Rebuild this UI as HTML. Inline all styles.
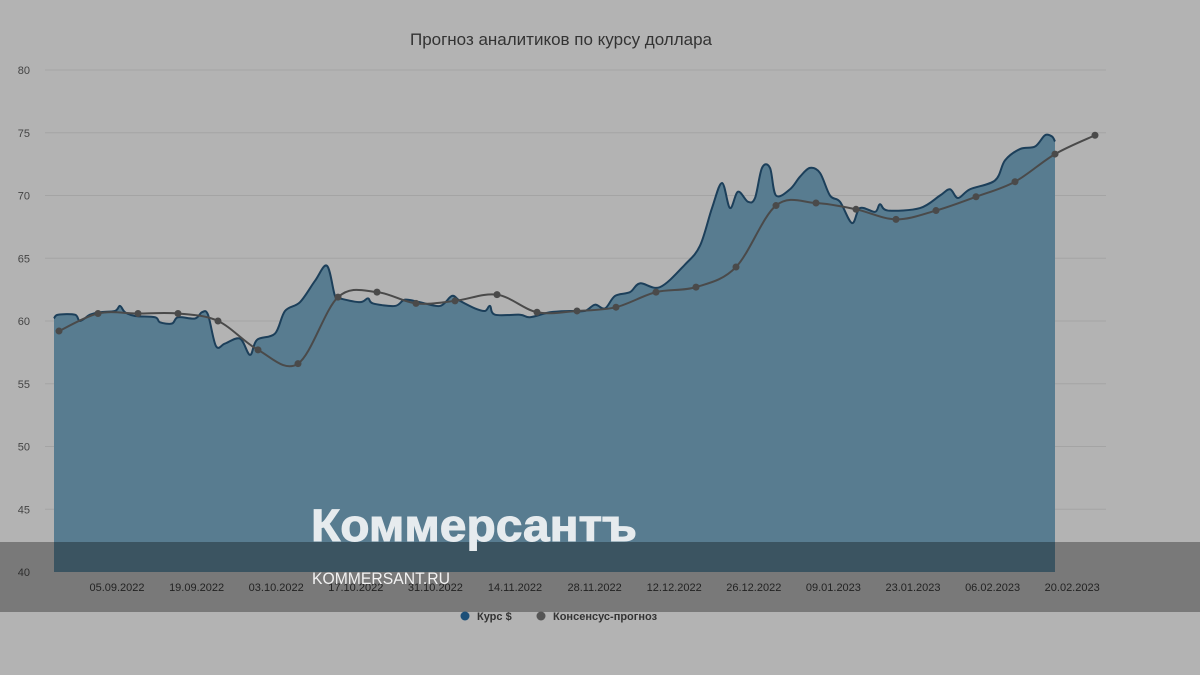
<!DOCTYPE html>
<html><head><meta charset="utf-8"><style>
body{margin:0;background:#b3b3b3;}
svg{display:block;font-family:"Liberation Sans",sans-serif;}
</style></head><body>
<svg id="s" width="1200" height="675" viewBox="0 0 1200 675">
<rect width="1200" height="675" fill="#b3b3b3"/>
<text x="561" y="45" text-anchor="middle" font-size="17" fill="#333">Прогноз аналитиков по курсу доллара</text>
<g id="grid" stroke="#a4a4a4" stroke-width="1"></g>
<g id="yl" font-size="11" fill="#444" text-anchor="end"></g>
<path id="area" fill="#587c90"/>
<path id="line" fill="none" stroke="#1c3f5a" stroke-width="2"/>
<path id="cons" fill="none" stroke="#4a4a4a" stroke-width="2"/>
<g id="dots" fill="#4a4a4a"></g>
<g id="xl" font-size="11" fill="#333" text-anchor="middle"></g>
<rect x="0" y="542" width="1200" height="70" fill="rgba(0,0,0,0.32)"/>
<text x="311" y="541" font-size="45" font-weight="bold" fill="#e6ebee" textLength="326" lengthAdjust="spacingAndGlyphs" stroke="#e6ebee" stroke-width="1">Коммерсантъ</text>
<text x="312" y="584" font-size="17" fill="#f2f2f2" textLength="138" lengthAdjust="spacingAndGlyphs">KOMMERSANT.RU</text>
<circle cx="465" cy="616" r="4.5" fill="#1c4f78"/>
<text x="477" y="620" font-size="11" font-weight="bold" fill="#333">Курс $</text>
<circle cx="541" cy="616" r="4.5" fill="#555"/>
<text x="553" y="620" font-size="11" font-weight="bold" fill="#333">Консенсус-прогноз</text>
</svg>
<script>
const Y=v=>572-(v-40)*12.55;
const ns="http://www.w3.org/2000/svg";
function el(p,t,a,txt){const e=document.createElementNS(ns,t);for(const k in a)e.setAttribute(k,a[k]);if(txt)e.textContent=txt;document.getElementById(p).appendChild(e);}
for(let v=40;v<=80;v+=5){if(v>40)el('grid','line',{x1:45,x2:1106,y1:Y(v),y2:Y(v)});el('yl','text',{x:30,y:Y(v)+4},String(v));}
const dates=["05.09.2022","19.09.2022","03.10.2022","17.10.2022","31.10.2022","14.11.2022","28.11.2022","12.12.2022","26.12.2022","09.01.2023","23.01.2023","06.02.2023","20.02.2023"];
dates.forEach((d,i)=>el('xl','text',{x:117+i*79.6,y:591},d));
function smooth(pts){let d="M"+pts[0][0]+","+pts[0][1];for(let i=0;i<pts.length-1;i++){const p0=pts[i-1]||pts[i],p1=pts[i],p2=pts[i+1],p3=pts[i+2]||p2;const t=6;d+=" C"+(p1[0]+(p2[0]-p0[0])/t)+","+(p1[1]+(p2[1]-p0[1])/t)+" "+(p2[0]-(p3[0]-p1[0])/t)+","+(p2[1]-(p3[1]-p1[1])/t)+" "+p2[0]+","+p2[1];}return d;}
const L=[[54,60.2],[58,60.5],[75,60.5],[80,60],[90,60.5],[100,60.7],[115,60.8],[120,61.2],[125,60.7],[135,60.4],[155,60.3],[160,59.9],[172,59.8],[178,60.3],[195,60.2],[202,60.7],[208,60.5],[216,58],[225,58.2],[240,58.6],[250,57.3],[257,58.5],[275,59],[285,60.8],[300,61.5],[315,63.2],[327,64.4],[335,62],[340,61.8],[360,61.5],[368,61.8],[373,61.4],[395,61.2],[405,61.7],[420,61.5],[440,61.2],[452,62],[460,61.6],[475,61],[485,60.8],[490,61.2],[495,60.5],[520,60.5],[530,60.3],[550,60.7],[570,60.8],[585,60.8],[595,61.3],[605,61],[615,62],[630,62.3],[640,63],[660,62.7],[685,64.5],[700,66],[712,69],[722,71],[730,69],[738,70.3],[748,69.5],[755,69.8],[762,72.2],[770,72.2],[776,70],[790,70.5],[800,71.5],[810,72.2],[820,71.8],[830,70],[840,69.5],[852,67.8],[860,69],[875,68.7],[880,69.3],[888,68.8],[920,69],[940,70],[950,70.5],[958,69.8],[970,70.5],[995,71.2],[1005,72.8],[1020,73.7],[1035,73.9],[1045,74.8],[1052,74.7],[1055,74.3]].map(p=>[p[0],Y(p[1])]);
const C=[[59,59.2],[98,60.6],[138,60.6],[178,60.6],[218,60],[258,57.7],[298,56.6],[338,61.9],[377,62.3],[416,61.4],[455,61.6],[497,62.1],[537,60.7],[577,60.8],[616,61.1],[656,62.3],[696,62.7],[736,64.3],[776,69.2],[816,69.4],[856,68.9],[896,68.1],[936,68.8],[976,69.9],[1015,71.1],[1055,73.3],[1095,74.8]].map(p=>[p[0],Y(p[1])]);
const ld=smooth(L);
document.getElementById('line').setAttribute('d',ld);
document.getElementById('area').setAttribute('d',ld+" L1055,572 L54,572 Z");
document.getElementById('cons').setAttribute('d',smooth(C));
C.forEach(p=>el('dots','circle',{cx:p[0],cy:p[1],r:3.5}));
</script>
</body></html>
